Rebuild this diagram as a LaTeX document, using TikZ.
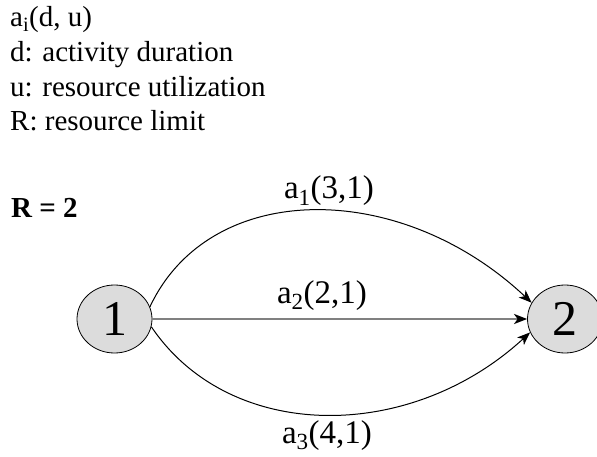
\documentclass[tikz,border=0pt]{standalone}
\usepackage{fontspec}
\setmainfont{Liberation Serif}
\usepackage{tikz}
\usetikzlibrary{arrows.meta,shapes.geometric}
\definecolor{nodeGray}{RGB}{220,220,220}
\definecolor{lineGray}{RGB}{128,128,128}

\begin{document}
\begin{tikzpicture}[x=1pt,y=-1pt,
    event/.style={ellipse,draw=black,fill=nodeGray,line width=0.8pt,inner sep=0pt,
      minimum width=75pt,minimum height=68pt,font=\fontsize{50}{50}\selectfont},
    legend/.style={anchor=base west,inner sep=0pt,font=\fontsize{29}{34}\selectfont},
    actlabel/.style={anchor=base,inner sep=0pt,font=\fontsize{33}{36}\selectfont},
    activity/.style={line width=1pt,-{Stealth[length=13pt,width=10pt,inset=3.5pt]}}]
  \useasboundingbox (0,0) rectangle (597,457);
  % legend
  \node[legend] (def) at (10,27) {a\textsubscript{i}(d, u)};
  \node[legend] (dur) at (10,62) {d: activity duration};
  \node[legend] (use) at (10,96.5) {u: resource utilization};
  \node[legend] (lim) at (10,131) {R: resource limit};
  \node[legend,font=\fontsize{29}{34}\selectfont\bfseries] (rval) at (11,218) {R = 2};
  % events
  \node[event] (n1) at (114.5,319) {1};
  \node[event] (n2) at (565,319) {2};
  % activities
  \draw[activity] (n1.19) .. controls (210,179) and (400,179) .. (n2.154);
  \draw[activity,line width=2.2pt,lineGray,
    -{Stealth[length=13pt,width=10pt,inset=3.5pt,color=black]}] (n1) -- (n2);
  \draw[activity] (n1.-12) .. controls (230,443) and (410,443) .. (n2.201);
  \node[actlabel] (act1) at (329,199) {a\textsubscript{1}(3,1)};
  \node[actlabel] (act2) at (322,303) {a\textsubscript{2}(2,1)};
  \node[actlabel] (act3) at (327,443) {a\textsubscript{3}(4,1)};
\end{tikzpicture}
\end{document}
